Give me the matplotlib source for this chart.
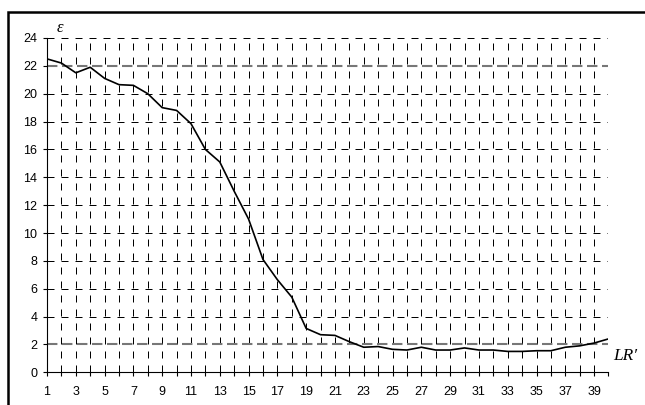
import numpy as np
import matplotlib
matplotlib.use("Agg")
from matplotlib import pyplot as plt
from matplotlib.patches import Rectangle

# LR' steps 1..40 and epsilon at each step
lr = list(range(1, 41))
eps = [22.5, 22.2, 21.5, 21.9, 21.1, 20.65, 20.6, 20.0, 19.0, 18.8,
       17.85, 16.0, 15.1, 13.0, 11.0, 8.1, 6.65, 5.4, 3.15, 2.7,
       2.65, 2.2, 1.8, 1.85, 1.65, 1.6, 1.8, 1.6, 1.6, 1.75,
       1.6, 1.6, 1.5, 1.5, 1.55, 1.55, 1.8, 1.9, 2.1, 2.4]
ref_levels = [2, 22]
y_ticks = list(range(0, 25, 2))
x_labels = [str(v) if v % 2 == 1 else "" for v in lr]

plt.rcParams["font.family"] = ["Liberation Sans", "DejaVu Sans"]

fig = plt.figure(figsize=(6.45, 4.05), dpi=100)
ax = fig.add_axes([0.0729, 0.0807, 0.8705, 0.8255])

# frame around the whole chart (only top and left fall inside the image)
fig.patches.append(Rectangle((8 / 645, -0.1), 1.2, 1 - 12 / 405 + 0.1,
                             transform=fig.transFigure, fill=False,
                             edgecolor="black", linewidth=1.8))

# dashed grid
for x in lr[1:]:
    ax.axvline(x, color="black", linewidth=0.72, linestyle=(0, (7, 7)), zorder=1)
for y in y_ticks[1:]:
    if y in ref_levels:
        continue
    ax.axhline(y, color="black", linewidth=0.72, linestyle=(0, (7, 7)), zorder=1)
for y in ref_levels:
    ax.axhline(y, color="#777777", linewidth=1.5, linestyle=(0, (5, 2.2)), zorder=2)

ax.plot(lr, eps, color="black", linewidth=1.2, zorder=3)

ax.set_xlim(1, 40)
ax.set_ylim(0, 24)
ax.set_xticks(lr)
ax.set_xticklabels(x_labels)
ax.set_yticks(y_ticks)
ax.tick_params(axis="both", direction="out", length=3, width=0.8,
               labelsize=9, colors="black")
ax.tick_params(axis="x", pad=7)
ax.tick_params(axis="y", pad=4)

for side in ("top", "right"):
    ax.spines[side].set_visible(False)
for side in ("left", "bottom"):
    ax.spines[side].set_linewidth(0.8)

fig.text(60 / 645, 1 - 28.5 / 405, "\u03b5", family=["Liberation Serif"],
         style="italic", fontsize=12, ha="center", va="center")
fig.text(613 / 645, 1 - 356 / 405, "LR\u2032", family=["Liberation Serif", "DejaVu Serif"],
         style="italic", fontsize=12.5, ha="left", va="center")

fig.savefig("out.png", dpi=100)
